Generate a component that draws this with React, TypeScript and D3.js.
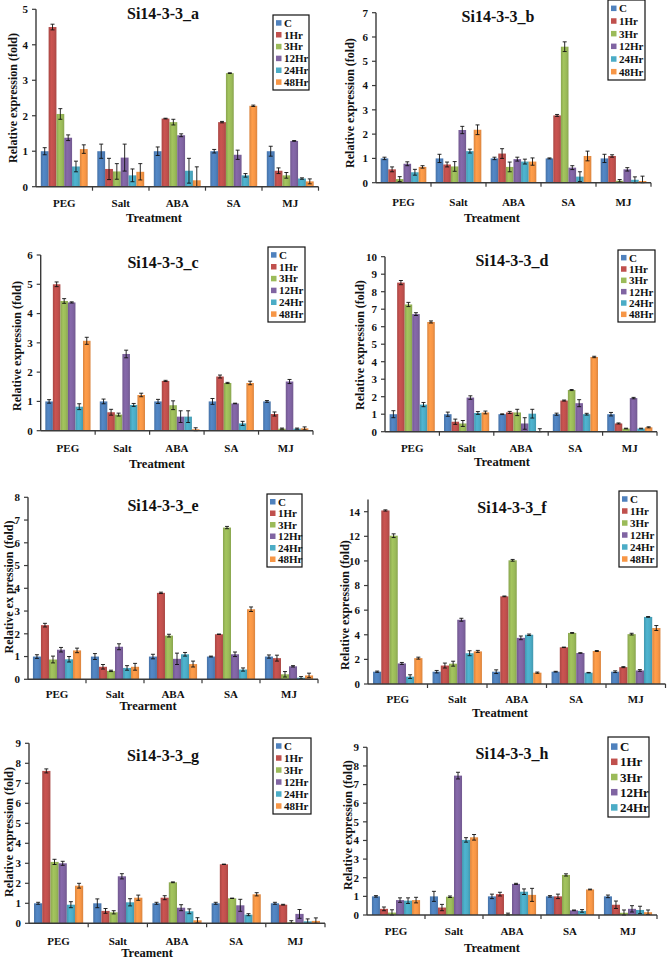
import React from "react";
import * as d3 from "d3";

const categories = ["PEG", "Salt", "ABA", "SA", "MJ"];
const seriesNames = ["C", "1Hr", "3Hr", "12Hr", "24Hr", "48Hr"];
const seriesColors = ["#4F81BD", "#C0504D", "#9BBB59", "#8064A2", "#4BACC6", "#F79646"];

// rows = series (C,1Hr,3Hr,12Hr,24Hr,48Hr), columns = categories
const valuesA = [
  [1, 1, 1, 1, 1],
  [4.5, 0.5, 1.92, 1.82, 0.45],
  [2.05, 0.43, 1.82, 3.2, 0.32],
  [1.38, 0.82, 1.45, 0.9, 1.29],
  [0.57, 0.32, 0.45, 0.32, 0.23],
  [1.06, 0.42, 0.18, 2.28, 0.15],
];
const errorsA = [
  [0.1, 0.2, 0.12, 0.05, 0.14],
  [0.08, 0.3, 0.01, 0.02, 0.08],
  [0.15, 0.22, 0.08, 0.01, 0.08],
  [0.08, 0.38, 0.04, 0.13, 0.01],
  [0.15, 0.18, 0.35, 0.05, 0.02],
  [0.12, 0.23, 0.38, 0.02, 0.07],
];
const valuesB = [
  [1, 1, 1, 1, 1],
  [0.55, 0.75, 1.2, 2.77, 1.1],
  [0.15, 0.67, 0.65, 5.6, 0.08],
  [0.78, 2.17, 0.97, 0.62, 0.55],
  [0.43, 1.3, 0.87, 0.25, 0.12],
  [0.65, 2.18, 0.87, 1.1, 0.07],
];
const errorsB = [
  [0.05, 0.17, 0.05, 0.02, 0.17],
  [0.1, 0.1, 0.2, 0.04, 0.05],
  [0.1, 0.2, 0.2, 0.2, 0.05],
  [0.08, 0.15, 0.08, 0.08, 0.07],
  [0.12, 0.08, 0.1, 0.2, 0.12],
  [0.05, 0.2, 0.15, 0.2, 0.2],
];
const valuesC = [
  [1, 1, 1, 1, 1],
  [5.0, 0.63, 1.7, 1.85, 0.57],
  [4.43, 0.55, 0.87, 1.63, 0.07],
  [4.38, 2.62, 0.48, 0.93, 1.68],
  [0.82, 0.88, 0.48, 0.25, 0.07],
  [3.07, 1.22, 0.05, 1.63, 0.08],
];
const errorsC = [
  [0.06, 0.08, 0.07, 0.1, 0.03],
  [0.08, 0.1, 0.02, 0.05, 0.07],
  [0.08, 0.05, 0.15, 0.02, 0.02],
  [0.02, 0.13, 0.2, 0.01, 0.07],
  [0.1, 0.05, 0.2, 0.07, 0.02],
  [0.12, 0.06, 0.05, 0.06, 0.05],
];
const valuesD = [
  [1, 1, 1, 1, 1],
  [8.52, 0.57, 1.1, 1.78, 0.47],
  [7.27, 0.47, 1.1, 2.38, 0.18],
  [6.72, 1.95, 0.47, 1.63, 1.92],
  [1.55, 1.07, 1.03, 1.0, 0.18],
  [6.27, 1.1, 0.02, 4.27, 0.25],
];
const errorsD = [
  [0.2, 0.12, 0.02, 0.06, 0.1],
  [0.12, 0.15, 0.06, 0.03, 0.03],
  [0.12, 0.17, 0.18, 0.03, 0.02],
  [0.08, 0.1, 0.33, 0.2, 0.04],
  [0.12, 0.08, 0.25, 0.05, 0.02],
  [0.06, 0.08, 0.15, 0.04, 0.03],
];
const valuesE = [
  [1, 1, 1, 1, 1],
  [2.38, 0.55, 3.8, 1.98, 0.93],
  [0.87, 0.37, 1.92, 6.67, 0.22],
  [1.3, 1.43, 0.9, 1.1, 0.57],
  [0.88, 0.5, 1.1, 0.43, 0.07],
  [1.27, 0.55, 0.67, 3.08, 0.17],
];
const errorsE = [
  [0.08, 0.13, 0.1, 0.02, 0.07],
  [0.08, 0.1, 0.03, 0.01, 0.13],
  [0.15, 0.03, 0.06, 0.05, 0.12],
  [0.1, 0.13, 0.25, 0.1, 0.03],
  [0.12, 0.1, 0.08, 0.07, 0.05],
  [0.1, 0.15, 0.13, 0.1, 0.1],
];
const valuesF = [
  [1, 1, 1, 1, 1],
  [14.1, 1.5, 7.12, 2.98, 1.37],
  [12.05, 1.65, 10.05, 4.15, 4.05],
  [1.67, 5.22, 3.75, 2.52, 1.1],
  [0.6, 2.5, 4.0, 0.92, 5.45],
  [2.1, 2.65, 0.92, 2.68, 4.55],
];
const errorsF = [
  [0.05, 0.1, 0.15, 0.03, 0.07],
  [0.05, 0.2, 0.03, 0.02, 0.04],
  [0.15, 0.2, 0.07, 0.03, 0.07],
  [0.08, 0.12, 0.15, 0.02, 0.07],
  [0.15, 0.2, 0.06, 0.02, 0.03],
  [0.08, 0.08, 0.05, 0.04, 0.2],
];
const valuesG = [
  [1, 1, 1, 1, 1],
  [7.62, 0.62, 1.28, 2.95, 0.93],
  [3.07, 0.55, 2.05, 1.25, 0.05],
  [3.0, 2.35, 0.78, 0.9, 0.47],
  [0.93, 1.05, 0.6, 0.43, 0.1],
  [1.88, 1.28, 0.15, 1.45, 0.12],
];
const errorsG = [
  [0.05, 0.22, 0.05, 0.05, 0.05],
  [0.1, 0.12, 0.1, 0.01, 0.02],
  [0.13, 0.08, 0.02, 0.01, 0.08],
  [0.1, 0.13, 0.15, 0.3, 0.22],
  [0.15, 0.18, 0.12, 0.05, 0.12],
  [0.12, 0.13, 0.13, 0.08, 0.15],
];
const valuesH = [
  [1, 1, 1, 1, 1],
  [0.33, 0.4, 1.12, 1.0, 0.55],
  [0.13, 0.98, 0.05, 2.15, 0.12],
  [0.8, 7.48, 1.67, 0.25, 0.33],
  [0.77, 4.03, 1.25, 0.22, 0.27],
  [0.8, 4.17, 1.08, 1.37, 0.15],
];
const errorsH = [
  [0.04, 0.27, 0.12, 0.04, 0.07],
  [0.1, 0.17, 0.1, 0.12, 0.2],
  [0.15, 0.04, 0.05, 0.06, 0.15],
  [0.12, 0.18, 0.03, 0.02, 0.17],
  [0.15, 0.12, 0.15, 0.07, 0.2],
  [0.15, 0.15, 0.35, 0.02, 0.12],
];

const FONT = "'Liberation Serif', 'Times New Roman', serif";

type PanelCfg = {
  title: string;
  values: number[][];
  errors: number[][];
  yMax: number;
  axisMax: number;
  step: number;
  x0: number;
  x1: number;
  yTopPx: number;
  y0Px: number;
  titleX: number;
  titleY: number;
  legend: { x: number; y: number; w: number; h: number; n: number; fs: number };
  tickY: number;
  xTitle: string;
  xTitleX: number;
  xTitleY: number;
  yLabel: string;
  yLabelX: number;
  yLabelY: number;
};

const panels: PanelCfg[] = [
  { title: "Si14-3-3_a", values: valuesA, errors: errorsA, yMax: 5, axisMax: 5, step: 1,
    x0: 36, x1: 318.5, yTopPx: 9.3, y0Px: 186.7, titleX: 163, titleY: 19,
    legend: { x: 273, y: 15, w: 36, h: 75, n: 6, fs: 11 }, tickY: 207,
    xTitle: "Treatment", xTitleX: 154, xTitleY: 222,
    yLabel: "Relative expression (fold)", yLabelX: 13, yLabelY: 98 },
  { title: "Si14-3-3_b", values: valuesB, errors: errorsB, yMax: 7, axisMax: 7, step: 1,
    x0: 376, x1: 651, yTopPx: 12.7, y0Px: 182.7, titleX: 498, titleY: 22,
    legend: { x: 608, y: 0, w: 37, h: 80, n: 6, fs: 11 }, tickY: 206,
    xTitle: "Treatment", xTitleX: 492, xTitleY: 222,
    yLabel: "Relative expression (fold)", yLabelX: 350, yLabelY: 103 },
  { title: "Si14-3-3_c", values: valuesC, errors: errorsC, yMax: 6, axisMax: 6, step: 1,
    x0: 40.7, x1: 313, yTopPx: 255, y0Px: 430.7, titleX: 163, titleY: 268,
    legend: { x: 268, y: 247, w: 37, h: 75, n: 6, fs: 11 }, tickY: 452,
    xTitle: "Treatment", xTitleX: 157, xTitleY: 468,
    yLabel: "Relative expression (fold)", yLabelX: 17, yLabelY: 346 },
  { title: "Si14-3-3_d", values: valuesD, errors: errorsD, yMax: 10, axisMax: 10, step: 1,
    x0: 385, x1: 657, yTopPx: 256.7, y0Px: 431.7, titleX: 512, titleY: 266,
    legend: { x: 618, y: 250, w: 37, h: 72, n: 6, fs: 11 }, tickY: 452,
    xTitle: "Treatment", xTitleX: 502, xTitleY: 466,
    yLabel: "Relative expression (fold)", yLabelX: 360, yLabelY: 345 },
  { title: "Si14-3-3_e", values: valuesE, errors: errorsE, yMax: 8, axisMax: 8, step: 1,
    x0: 28, x1: 318, yTopPx: 497.3, y0Px: 679.3, titleX: 163, titleY: 511,
    legend: { x: 267, y: 494, w: 35, h: 73, n: 6, fs: 11 }, tickY: 698,
    xTitle: "Trearment", xTitleX: 148, xTitleY: 710,
    yLabel: "Relative ex pression (fold)", yLabelX: 9, yLabelY: 587 },
  { title: "Si14-3-3_f", values: valuesF, errors: errorsF, yMax: 14, axisMax: 15, step: 2,
    x0: 368, x1: 665.5, yTopPx: 511.7, y0Px: 684, titleX: 512, titleY: 513,
    legend: { x: 619, y: 491, w: 38, h: 76, n: 6, fs: 11 }, tickY: 703,
    xTitle: "Treatment", xTitleX: 500, xTitleY: 717,
    yLabel: "Relative expression (fold)", yLabelX: 345, yLabelY: 605 },
  { title: "Si14-3-3_g", values: valuesG, errors: errorsG, yMax: 9, axisMax: 9, step: 1,
    x0: 29, x1: 325, yTopPx: 743.3, y0Px: 923.3, titleX: 163, titleY: 761,
    legend: { x: 273, y: 738, w: 38, h: 76, n: 6, fs: 11 }, tickY: 945,
    xTitle: "Treament", xTitleX: 147, xTitleY: 957,
    yLabel: "Relative expression (fold)", yLabelX: 9, yLabelY: 832 },
  { title: "Si14-3-3_h", values: valuesH, errors: errorsH, yMax: 9, axisMax: 9, step: 1,
    x0: 367, x1: 657, yTopPx: 747.3, y0Px: 915, titleX: 512, titleY: 759,
    legend: { x: 608, y: 737, w: 41, h: 80, n: 5, fs: 13 }, tickY: 935,
    xTitle: "Treatment", xTitleX: 492, xTitleY: 952,
    yLabel: "Relative expression (fold)", yLabelX: 348, yLabelY: 825 },
];

function Panel({ cfg, idx }: { cfg: PanelCfg; idx: number }) {
  const y = d3.scaleLinear().domain([0, cfg.yMax]).range([cfg.y0Px, cfg.yTopPx]);
  const xCat = d3.scaleBand<string>().domain(categories).range([cfg.x0, cfg.x1]).padding(0);
  const bw = xCat.bandwidth();
  const inner = d3.scaleBand<number>().domain(d3.range(seriesNames.length)).range([bw * 0.085, bw * 0.915]).padding(0);
  const ticks = d3.range(0, cfg.yMax + 0.001, cfg.step);
  const axisColor = "#3a3a3a";
  const lg = cfg.legend;
  const rowH = (lg.h - 4) / lg.n;

  return (
    <g>
      {/* bars */}
      {cfg.values.map((row, si) =>
        row.map((v, ci) => {
          const bx = (xCat(categories[ci]) as number) + (inner(si) as number);
          const w = inner.bandwidth();
          return (
            <rect key={`b${si}-${ci}`} x={bx} y={y(v)} width={w} height={cfg.y0Px - y(v)}
              fill={`url(#grad${si})`} />
          );
        })
      )}
      {/* error bars */}
      {cfg.values.map((row, si) =>
        row.map((v, ci) => {
          const e = cfg.errors[si][ci];
          const cx = (xCat(categories[ci]) as number) + (inner(si) as number) + inner.bandwidth() / 2;
          const lo = y(Math.max(0, v - e));
          const hi = y(v + e);
          return (
            <g key={`e${si}-${ci}`} stroke="#111" strokeWidth={0.9}>
              <line x1={cx} x2={cx} y1={lo} y2={hi} />
              <line x1={cx - 2} x2={cx + 2} y1={hi} y2={hi} />
              <line x1={cx - 2} x2={cx + 2} y1={lo} y2={lo} />
            </g>
          );
        })
      )}
      {/* y axis */}
      <line x1={cfg.x0} x2={cfg.x0} y1={cfg.y0Px} y2={y(cfg.axisMax)} stroke={axisColor} strokeWidth={1.4} />
      {ticks.map((t) => (
        <g key={`yt${t}`}>
          <line x1={cfg.x0 - 4} x2={cfg.x0} y1={y(t)} y2={y(t)} stroke={axisColor} strokeWidth={1.2} />
          <text x={cfg.x0 - 8} y={y(t)} dy="0.35em" textAnchor="end" fontFamily={FONT}
            fontWeight="bold" fontSize={11} fill="#111">{t}</text>
        </g>
      ))}
      {/* x axis */}
      <line x1={cfg.x0} x2={cfg.x1} y1={cfg.y0Px} y2={cfg.y0Px} stroke={axisColor} strokeWidth={1.4} />
      {categories.map((c, i) => (
        <line key={`xt${c}`} x1={(xCat(c) as number) + bw} x2={(xCat(c) as number) + bw}
          y1={cfg.y0Px} y2={cfg.y0Px + 4} stroke={axisColor} strokeWidth={1.2} />
      ))}
      {categories.map((c) => (
        <text key={`xl${c}`} x={(xCat(c) as number) + bw / 2} y={cfg.tickY} textAnchor="middle"
          fontFamily={FONT} fontWeight="bold" fontSize={11} fill="#111">{c}</text>
      ))}
      <text x={cfg.xTitleX} y={cfg.xTitleY} textAnchor="middle" fontFamily={FONT} fontWeight="bold"
        fontSize={12.5} fill="#111">{cfg.xTitle}</text>
      <text x={cfg.yLabelX} y={cfg.yLabelY} transform={`rotate(-90, ${cfg.yLabelX}, ${cfg.yLabelY})`}
        textAnchor="middle" dy="0.35em" fontFamily={FONT} fontWeight="bold" fontSize={12} fill="#111">
        {cfg.yLabel}
      </text>
      {/* title */}
      <text x={cfg.titleX} y={cfg.titleY} textAnchor="middle" fontFamily={FONT} fontWeight="bold"
        fontSize={16} fill="#111">{cfg.title}</text>
      {/* legend */}
      <rect x={lg.x} y={lg.y} width={lg.w} height={lg.h} fill="#fff" stroke="#111" strokeWidth={1.2} />
      {seriesNames.slice(0, lg.n).map((s, i) => {
        const cy = lg.y + 2 + rowH * (i + 0.5);
        const sq = lg.fs * 0.5;
        return (
          <g key={`lg${s}`}>
            <rect x={lg.x + 3} y={cy - sq / 2} width={sq} height={sq} fill={seriesColors[i]} />
            <text x={lg.x + 4 + sq + 1.5} y={cy} dy="0.35em" fontFamily={FONT} fontWeight="bold"
              fontSize={lg.fs} fill="#111">{s}</text>
          </g>
        );
      })}
    </g>
  );
}

export default function App() {
  return (
    <svg width={670} height={960} style={{ position: "absolute", left: 0, top: 0, background: "#fff" }}>
      <defs>
        {seriesColors.map((c, i) => {
          const dark = d3.color(c)!.darker(0.35).formatHex();
          const light = d3.color(c)!.brighter(0.15).formatHex();
          return (
            <linearGradient key={`g${i}`} id={`grad${i}`} x1="0" x2="1" y1="0" y2="0">
              <stop offset="0" stopColor={dark} />
              <stop offset="0.35" stopColor={light} />
              <stop offset="0.7" stopColor={c} />
              <stop offset="1" stopColor={dark} />
            </linearGradient>
          );
        })}
      </defs>
      <rect x={0} y={0} width={670} height={960} fill="#fff" />
      {panels.map((p, i) => (
        <Panel key={p.title} cfg={p} idx={i} />
      ))}
    </svg>
  );
}
